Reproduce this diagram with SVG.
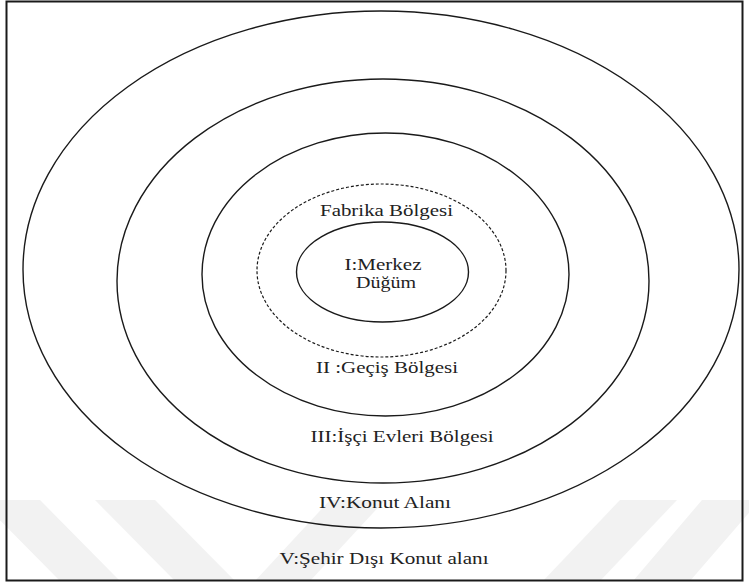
<svg xmlns="http://www.w3.org/2000/svg" width="749" height="587" viewBox="0 0 749 587">
  <style>
    .ring { fill: none; stroke: #1a1a1a; stroke-width: 1.4; }
    .dash { fill: none; stroke: #1a1a1a; stroke-width: 1.2; stroke-dasharray: 3 2; }
    .lbl { font-family: "Liberation Serif", "Times New Roman", serif; font-size: 17px; fill: #222; text-anchor: middle; }
    .wm { fill: #f2f2f2; }
  </style>
  <rect x="0" y="0" width="749" height="587" fill="#ffffff"/>
  <g id="watermark">
    <polygon class="wm" points="-20,500 40,500 120,581 60,581"/>
    <polygon class="wm" points="95,500 155,500 235,581 175,581"/>
    <polygon class="wm" points="330,500 385,500 310,581 255,581"/>
    <polygon class="wm" points="620,500 677,500 600,581 543,581"/>
    <polygon class="wm" points="702,500 760,500 690,581 633,581"/>
  </g>
  <rect id="frame" x="6.5" y="1.5" width="736" height="579" fill="none" stroke="#1a1a1a" stroke-width="2"/>
  <g id="zone-v">
    <ellipse class="ring" cx="381" cy="269.5" rx="358" ry="258.5"/>
    <text class="lbl" x="384" y="564" textLength="209" lengthAdjust="spacingAndGlyphs">V:Şehir Dışı Konut alanı</text>
  </g>
  <g id="zone-iv">
    <ellipse class="ring" cx="383" cy="281" rx="266" ry="202"/>
    <text class="lbl" x="385" y="508" textLength="132" lengthAdjust="spacingAndGlyphs">IV:Konut Alanı</text>
  </g>
  <g id="zone-iii">
    <ellipse class="ring" cx="385.5" cy="274.5" rx="183.5" ry="141.5"/>
    <text class="lbl" x="402" y="442" textLength="183" lengthAdjust="spacingAndGlyphs">III:İşçi Evleri Bölgesi</text>
  </g>
  <g id="zone-ii">
    <text class="lbl" x="387" y="373" textLength="142" lengthAdjust="spacingAndGlyphs">II :Geçiş Bölgesi</text>
  </g>
  <g id="fabrika">
    <ellipse class="dash" cx="381.5" cy="270.5" rx="124.5" ry="86.5"/>
    <text class="lbl" x="386.5" y="216" textLength="133" lengthAdjust="spacingAndGlyphs">Fabrika Bölgesi</text>
  </g>
  <g id="merkez">
    <ellipse class="ring" cx="382.5" cy="272" rx="86" ry="50"/>
    <text class="lbl" x="383" y="270" textLength="77" lengthAdjust="spacingAndGlyphs">I:Merkez</text>
    <text class="lbl" x="386" y="288" textLength="60" lengthAdjust="spacingAndGlyphs">Düğüm</text>
  </g>
  <g id="connectors"/>
</svg>
